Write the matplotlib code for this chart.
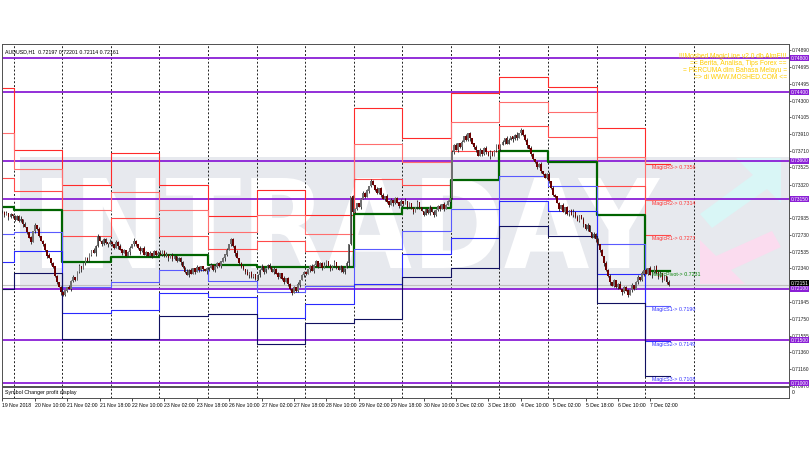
import numpy as np
import matplotlib.pyplot as plt
from matplotlib.patches import Rectangle, PathPatch, Polygon
from matplotlib.textpath import TextPath
from matplotlib.font_manager import FontProperties
from matplotlib.transforms import Affine2D, blended_transform_factory

plt.rcParams['font.family'] = ['Liberation Sans', 'DejaVu Sans']

# ---- data (prices in pips, x in H1 bars from 19 Nov 18:00) ----
closes = [
    7300, 7296, 7298, 7294, 7297, 7295,
    7291, 7295, 7289, 7292, 7286, 7282, 7276, 7270, 7265, 7278, 7284, 7280,
    7272, 7266, 7262, 7255, 7249, 7246, 7240, 7236, 7225, 7218, 7212, 7206,
    7203, 7208, 7212, 7210, 7219, 7224, 7221, 7230, 7236, 7233, 7240, 7246,
    7243, 7250, 7255, 7252, 7260, 7272, 7266, 7262, 7268, 7264, 7262, 7265,
    7262, 7258, 7265, 7260, 7256, 7252, 7255, 7249, 7253, 7258, 7262, 7266,
    7262, 7258, 7254, 7257, 7250, 7253, 7248, 7252, 7249, 7254, 7250, 7252,
    7250, 7254, 7248, 7251, 7246, 7249, 7245, 7248, 7243, 7246, 7241, 7236,
    7230, 7226, 7232, 7228, 7234, 7230, 7235, 7232, 7236, 7233, 7231, 7234,
    7235, 7238, 7232, 7236, 7240, 7237, 7242, 7246, 7250, 7255, 7262, 7268,
    7260, 7252, 7246, 7240, 7236, 7233, 7230, 7226, 7229, 7224, 7227, 7222,
    7226, 7232, 7236, 7230, 7234, 7238, 7235, 7230, 7233, 7228, 7224, 7228,
    7222, 7218, 7222, 7216, 7210, 7205, 7212, 7207, 7215, 7220, 7226, 7230,
    7228, 7233, 7236, 7231, 7238, 7242, 7236, 7240, 7235, 7238, 7242, 7237,
    7233, 7237, 7241, 7236, 7232, 7236, 7230, 7234, 7240, 7262, 7318, 7300,
    7303, 7310, 7306, 7315, 7322, 7318, 7325, 7330, 7336, 7331, 7326, 7322,
    7328, 7320, 7315, 7318, 7312, 7308, 7314, 7310, 7316, 7311, 7307, 7312,
    7309, 7313, 7306, 7310, 7304, 7300, 7306, 7311, 7305, 7301, 7297, 7303,
    7299, 7305, 7300, 7296, 7302, 7307, 7303, 7309, 7304, 7308, 7312, 7316,
    7370, 7378, 7372, 7380, 7376, 7382, 7388, 7384, 7392, 7386, 7380, 7376,
    7372, 7366, 7372, 7368, 7375, 7370, 7365, 7370, 7366, 7372, 7378, 7374,
    7378, 7382, 7386, 7380, 7384, 7388, 7385, 7390, 7386, 7392, 7396, 7390,
    7384, 7378, 7374, 7368, 7362, 7358, 7352, 7356, 7348, 7344, 7340, 7344,
    7336, 7328, 7320, 7318, 7310, 7304, 7308, 7300, 7305, 7298, 7302, 7296,
    7300, 7294, 7290, 7296, 7292, 7286, 7280, 7284, 7276, 7270, 7274, 7268,
    7262, 7255, 7248, 7240, 7232, 7225, 7218, 7214, 7220, 7212, 7216, 7210,
    7206, 7212, 7208, 7203, 7209, 7214, 7210, 7218, 7224, 7220, 7228, 7232,
    7228, 7234, 7226, 7230, 7236, 7229, 7224, 7228, 7221, 7225, 7218, 7215,
]
wick_up = ("213121"
           "121302112031201213021102" "210312013021120312011203"
           "102130211203102131020112" "311201320112031201321102"
           "120312011302213012031201" "213011203120130211203121"
           "102312011320213102013102" "201131202113012031201213"
           "130212031102130211203120" "213102130211203112031021"
           "121320113021120310213012" "302112031201302112031021"
           "112031202113021203112031" "213012031102")
wick_dn = ("120312"
           "201130212031102130211203" "112031201302112031021130"
           "210312011302213102013021" "021130212031102113021203"
           "301211203102130211203112" "120311203021120312011302"
           "213021103120211302120311" "110302131021130212031120"
           "203112031021130211203102" "120213011302210312031120"
           "302110312021130211203102" "211203102130211203120113"
           "120311302120311203102113" "120311203021")

day_start = [0, 6, 30, 54, 78, 102, 126, 150, 174, 198, 222, 246, 270, 294, 318]
last_bar = 330
R3 = [7445, 7372, 7332, 7369, 7332, 7295, 7326, 7296, 7421, 7386, 7439, 7458, 7446, 7398, 7356]
R2 = [7392, 7350, 7302, 7323, 7302, 7276, 7296, 7274, 7380, 7359, 7405, 7429, 7417, 7364, 7314]
R1 = [7340, 7325, 7272, 7293, 7272, 7257, 7266, 7254, 7339, 7332, 7371, 7400, 7388, 7330, 7273]
PV = [7306, 7302, 7242, 7247, 7250, 7238, 7236, 7236, 7298, 7305, 7337, 7371, 7359, 7296, 7231]
S1 = [7274, 7277, 7212, 7218, 7232, 7219, 7206, 7214, 7257, 7278, 7303, 7342, 7330, 7262, 7190]
S2 = [7242, 7254, 7182, 7185, 7205, 7200, 7176, 7192, 7216, 7251, 7269, 7313, 7301, 7228, 7149]
S3 = [7210, 7229, 7152, 7152, 7178, 7181, 7146, 7170, 7175, 7224, 7235, 7284, 7272, 7194, 7108]

purple_levels = [0.7480, 0.7440, 0.7360, 0.7315, 0.7210, 0.7150, 0.7100]
price_ticks = [0.74890, 0.74695, 0.74495, 0.74300, 0.74105, 0.73910, 0.73710, 0.73525,
               0.73320, 0.72935, 0.72730, 0.72535, 0.72340, 0.71945, 0.71750, 0.71555,
               0.71360, 0.71160, 0.70970]
last_price = 0.72151
time_ticks = list(range(0, 321, 16))
time_labels = ["19 Nov 2018", "20 Nov 10:00", "21 Nov 02:00", "21 Nov 18:00", "22 Nov 10:00",
               "23 Nov 02:00", "23 Nov 18:00", "26 Nov 10:00", "27 Nov 02:00", "27 Nov 18:00",
               "28 Nov 10:00", "29 Nov 02:00", "29 Nov 18:00", "30 Nov 10:00", "3 Dec 02:00",
               "3 Dec 18:00", "4 Dec 10:00", "5 Dec 02:00", "5 Dec 18:00", "6 Dec 10:00",
               "7 Dec 02:00"]
banner = ["!!!Moshed MagicLine v2.0 db AlmF!!!", "== Berita, Analisa, Tips Forex ==",
          "= PERCUMA dlm Bahasa Melayu =", "=> di WWW.MOSHED.COM <="]

# ---- figure ----
fig = plt.figure(figsize=(8.1, 4.5), dpi=100)
W, H = 810, 450
ax = fig.add_axes([2 / W, 64 / H, 787 / W, 342 / H])
sub = fig.add_axes([2 / W, 52 / H, 787 / W, 11 / H])

xmin, xmax = -0.2, 388.5
ax.set_xlim(xmin, xmax)
ax.set_ylim(0.70965, 0.74964)


def frac(pts):
    # screen pixel (x, y from top) -> axes fraction of the main chart
    return [((px - 2) / 787, (386 - py) / 342) for px, py in pts]


# watermark band + INTRADAY letters + logo
ax.add_patch(Rectangle((0.023, 0.281), 0.977, 0.389, transform=ax.transAxes,
                       facecolor='#e7e9ee', edgecolor='none', zorder=0.5))
fp = FontProperties(family='DejaVu Sans', weight='bold')
tp = TextPath((0, 0), 'INTRADAY', prop=fp, size=1)
bb = tp.get_extents()
x0, x1 = 40 / 787, 658 / 787
y0, y1 = 118 / 342, 208 / 342
tr = Affine2D().translate(-bb.x0, -bb.y0).scale((x1 - x0) / bb.width, (y1 - y0) / bb.height) \
    .translate(x0, y0) + ax.transAxes
ax.add_patch(PathPatch(tp, transform=tr, facecolor='white', edgecolor='none', zorder=0.6))
cyan = frac([(781, 158), (781, 203), (767, 189), (712, 228), (700, 214), (753, 175), (736, 158)])
pink = frac([(700, 284), (745, 284), (731, 270), (781, 247), (772, 231), (716, 256), (700, 240)])
ax.add_patch(Polygon(cyan, closed=True, transform=ax.transAxes, facecolor='#d9f6f6',
                     edgecolor='none', zorder=0.6))
ax.add_patch(Polygon(pink, closed=True, transform=ax.transAxes, facecolor='#fbdcef',
                     edgecolor='none', zorder=0.6))

# day separators
for d in day_start[1:] + [342]:
    for a in (ax, sub):
        a.axvline(d - 0.5, color='#202020', lw=0.7, ls=(0, (2, 2)), zorder=1)

# purple levels and current price line
for lv in purple_levels:
    ax.axhline(lv, color='#8a1fd6', lw=1.3, zorder=2)
ax.axhline(last_price, color='#c0c0c0', lw=0.8, zorder=1.5)

# daily magic levels (step lines)
edges = [d - 0.5 for d in day_start] + [last_bar - 0.5]
level_sets = [(R3, '#ff2a2a', 0.8), (R2, '#ff6e6e', 0.8), (R1, '#ff4a4a', 0.8),
              (PV, '#006400', 1.6), (S1, '#5a5aff', 0.8), (S2, '#2a2aff', 0.8),
              (S3, '#101060', 0.8)]
for vals, col, lw in level_sets:
    yv = [v / 10000 for v in vals] + [vals[-1] / 10000]
    ax.step(edges, yv, where='post', color=col, lw=lw, zorder=2.5)

names = ["MagicR3", "MagicR2", "MagicR1", "MagicPivot", "MagicS1", "MagicS2", "MagicS3"]
label_cols = ['#ff3030', '#ff3030', '#ff3030', '#008000', '#3030ff', '#3030ff', '#3030ff']
for nm, (vals, _, _), col in zip(names, level_sets, label_cols):
    ax.text(day_start[-1] + 3, vals[-1] / 10000 - 0.00012, f"{nm}-> {vals[-1] / 10000:.4f}",
            color=col, fontsize=3.8, va='top', ha='left', zorder=5)

# candles
c = np.array(closes) / 10000
o = np.concatenate([[c[0]], c[:-1]])
hi = np.maximum(o, c) + np.array([int(ch) for ch in wick_up]) / 10000
lo = np.minimum(o, c) - np.array([int(ch) for ch in wick_dn]) / 10000
xs = np.arange(len(c))
up = c >= o
ax.vlines(xs, lo, hi, color='#202020', lw=0.6, zorder=3)
ax.bar(xs[up], (c - o)[up] + 0.00003, bottom=o[up], width=0.8, color='#707070', zorder=3.5)
ax.bar(xs[~up], (o - c)[~up] + 0.00003, bottom=c[~up], width=0.8, color='#6b0000', zorder=3.5)

# right price axis
fs = 3.5
ax.yaxis.tick_right()
ax.set_yticks(price_ticks)
ax.set_yticklabels([f"{t:.5f}" for t in price_ticks])
ax.tick_params(axis='y', labelsize=fs, length=1.5, width=0.5, pad=0.6, colors='#202020')
ax.set_xticks([])
for sp in ax.spines.values():
    sp.set_color('#505050')
    sp.set_linewidth(0.7)

bt = blended_transform_factory(ax.transAxes, ax.transData)
for lv in purple_levels:
    ax.text(1.002, lv, f"{lv:.5f}", transform=bt, fontsize=fs, color='white', va='center',
            ha='left', bbox=dict(boxstyle='square,pad=0.12', fc='#8a1fd6', ec='none'),
            zorder=6, clip_on=False)
ax.text(1.002, last_price + 0.00015, f"{last_price:.5f}", transform=bt, fontsize=fs,
        color='white', va='center', ha='left',
        bbox=dict(boxstyle='square,pad=0.12', fc='black', ec='none'), zorder=6, clip_on=False)

ax.text(0.004, 0.985, "AUDUSD,H1  0.72197 0.72201 0.72114 0.72161", transform=ax.transAxes,
        fontsize=3.8, va='top', ha='left', color='black', zorder=6)
ax.text(0.997, 0.975, "\n".join(banner), transform=ax.transAxes, fontsize=4.8,
        color='#ffcc00', ha='right', va='top', linespacing=1.0, zorder=6)

# sub window + time axis
sub.set_xlim(xmin, xmax)
sub.set_ylim(0, 1)
sub.text(0.004, 0.5, "Symbol Changer profit display", transform=sub.transAxes,
         fontsize=3.8, va='center', ha='left')
sub.yaxis.tick_right()
sub.set_yticks([0.5])
sub.set_yticklabels(["0"])
sub.tick_params(axis='y', labelsize=fs, length=0, pad=2)
sub.set_xticks(time_ticks)
sub.set_xticklabels(time_labels, ha='left')
sub.tick_params(axis='x', labelsize=3.7, length=2, width=0.5, pad=1.5)
for sp in sub.spines.values():
    sp.set_color('#505050')
    sp.set_linewidth(0.7)

fig.savefig("out.png", dpi=100)
